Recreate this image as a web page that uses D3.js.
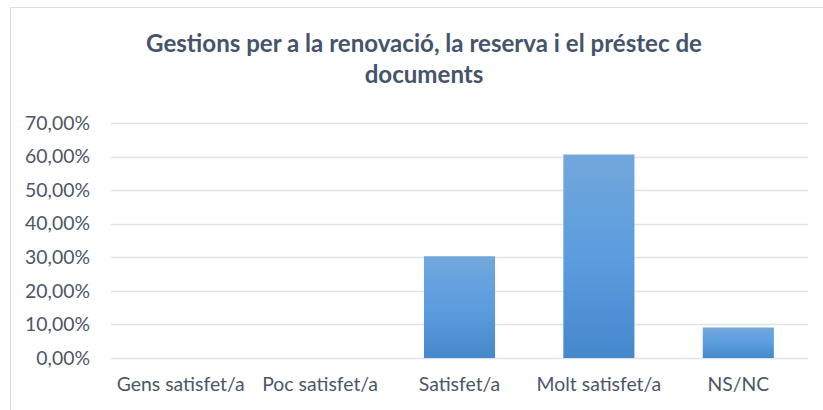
<!DOCTYPE html>
<html>
<head>
<meta charset="utf-8">
<script src="https://cdn.jsdelivr.net/npm/d3@7"></script>
<style>
  body { margin: 0; background: #fff; }
  svg { display: block; font-family: Lato, "Open Sans", sans-serif; }
</style>
</head>
<body>
<svg id="svg" width="823" height="410"></svg>
<script>
const titleLines = ["Gestions per a la renovació, la reserva i el préstec de", "documents"];
const categories = ["Gens satisfet/a", "Poc satisfet/a", "Satisfet/a", "Molt satisfet/a", "NS/NC"];
const values = [0, 0, 0.3030, 0.6061, 0.0909];
const yTicks = [0, 0.1, 0.2, 0.3, 0.4, 0.5, 0.6, 0.7];

let svg = d3.select("svg");
let margin = {top: 123, right: 15, bottom: 52, left: 111};
let width = 808 - margin.left;
let height = 358 - margin.top;
let textColor = "#4b5668";

// chart frame (right and bottom edges fall outside the picture)
svg.append("rect")
  .attr("x", 10.5).attr("y", 7.5)
  .attr("width", 830).attr("height", 420)
  .attr("fill", "#fff")
  .attr("stroke", "#dadee5");

let defs = svg.append("defs");
let grad = defs.append("linearGradient")
  .attr("id", "barGrad")
  .attr("x1", 0).attr("y1", 0).attr("x2", 0).attr("y2", 1);
grad.append("stop").attr("offset", "0%").attr("stop-color", "#72a7dc");
grad.append("stop").attr("offset", "50%").attr("stop-color", "#5b9ddf");
grad.append("stop").attr("offset", "100%").attr("stop-color", "#4588cb");

// title, sized to the width it takes in the reference
let title = svg.append("text")
  .attr("text-anchor", "middle")
  .attr("font-weight", "bold")
  .attr("font-size", 19)
  .attr("fill", "#44546a");
titleLines.forEach((t, i) => {
  title.append("tspan").attr("x", 424).attr("y", 52 + i * 31).text(t);
});
let firstLen = title.select("tspan").node().getComputedTextLength();
title.attr("font-size", 19 * 556 / firstLen);

// measure label font so "Gens satisfet/a" is about 128px wide
let probe = svg.append("text").attr("font-size", 16).text(categories[0]);
let labelSize = 16 * 128 / probe.node().getComputedTextLength();
probe.remove();

let x = d3.scaleBand().domain(categories).range([0, width]).paddingInner(0.49).paddingOuter(0.245);
let y = d3.scaleLinear().domain([0, 0.7]).range([height, 0]);

let g = svg.append("g").attr("transform", "translate(" + margin.left + "," + margin.top + ")");

let fmt = v => d3.format(".2f")(v * 100).replace(".", ",") + "%";

g.append("g")
  .selectAll("line")
  .data(yTicks)
  .enter().append("line")
    .attr("x1", 0).attr("x2", width)
    .attr("y1", d => Math.round(y(d)) + 0.5)
    .attr("y2", d => Math.round(y(d)) + 0.5)
    .attr("stroke", "#dfe2e7")
    .attr("stroke-width", 1.3);

let yAxis = g.append("g")
  .call(d3.axisLeft(y).tickValues(yTicks).tickFormat(fmt).tickSize(0).tickPadding(21));
yAxis.select(".domain").remove();
yAxis.selectAll("text")
  .attr("font-family", "Lato, 'Open Sans', sans-serif")
  .attr("font-size", labelSize)
  .attr("fill", textColor);

g.selectAll("rect.bar")
  .data(values)
  .enter().append("rect")
    .classed("bar", true)
    .attr("x", (d, i) => x(categories[i]))
    .attr("width", x.bandwidth())
    .attr("y", d => y(d))
    .attr("height", d => height - y(d))
    .attr("fill", "url(#barGrad)");

let xAxis = g.append("g")
  .attr("transform", "translate(0," + height + ")")
  .call(d3.axisBottom(x).tickSize(0).tickPadding(19));
xAxis.select(".domain").remove();
xAxis.selectAll("text")
  .attr("font-family", "Lato, 'Open Sans', sans-serif")
  .attr("font-size", labelSize)
  .attr("fill", textColor);
</script>
</body>
</html>
